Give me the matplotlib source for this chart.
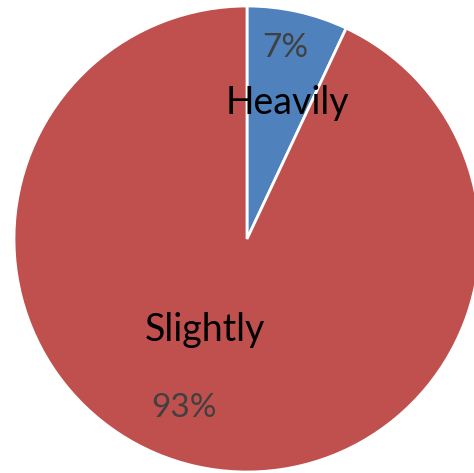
import matplotlib
matplotlib.use('Agg')
import matplotlib.pyplot as plt

# pie data
labels = ['Heavily', 'Slightly']
shares = [7, 93]
colors = ['#4F81BD', '#C0504D']

plt.rcParams['font.family'] = ['Lato', 'DejaVu Sans']

fig = plt.figure(figsize=(4.74, 4.73), dpi=100)
ax = fig.add_axes([0, 0, 1, 1])

wedges, _ = ax.pie(shares, colors=colors, startangle=90, counterclock=False,
                   radius=1, wedgeprops=dict(edgecolor='white', linewidth=2))

# label and percentage positions (data coords)
name_pos = [(0.172, 0.584), (-0.18, -0.39)]
pct_pos = [(0.163, 0.82), (-0.27, -0.725)]
for lab, val, npos, ppos in zip(labels, shares, name_pos, pct_pos):
    ax.text(*npos, lab, ha='center', va='center', fontsize=27, color='black')
    ax.text(*ppos, f'{val}%', ha='center', va='center', fontsize=24, color='#404040')

s = 233.0
ax.set_xlim(-247 / s, (474 - 247) / s)
ax.set_ylim(-(473 - 239) / s, 239 / s)
ax.set_aspect('auto')
ax.axis('off')

fig.savefig('out.png', dpi=100)
